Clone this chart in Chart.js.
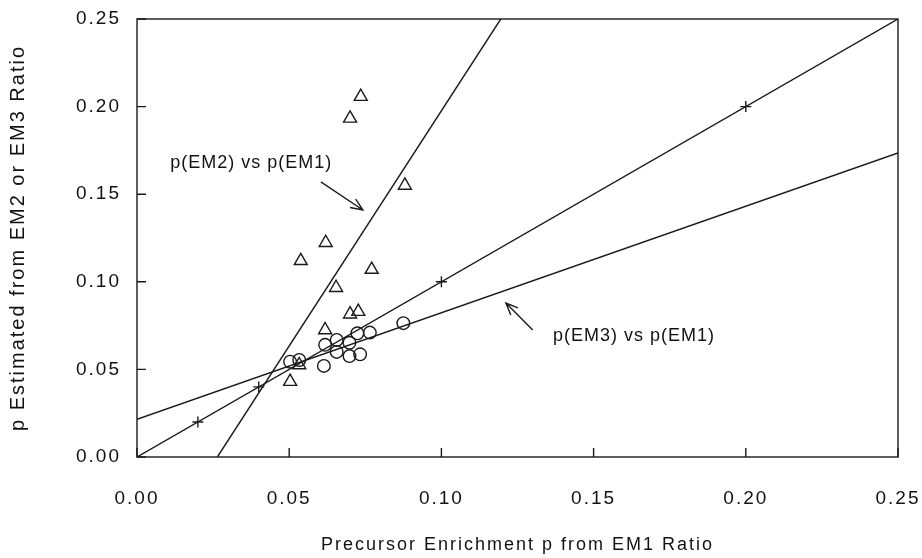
<!DOCTYPE html>
<html>
<head>
<meta charset="utf-8">
<script src="https://cdn.jsdelivr.net/npm/chart.js@4"></script>
<style>
  html, body { margin: 0; padding: 0; background: #fff; }
  #wrap { width: 922px; height: 558px; }
</style>
</head>
<body>
<div id="wrap"><canvas id="enrichChart" width="922" height="558"></canvas></div>
<script>
// EM2 estimates (triangles) vs p from EM1
const em2X = [0.0735, 0.0700, 0.0880, 0.0620, 0.0538, 0.0771, 0.0654, 0.0700, 0.0727, 0.0618, 0.0533, 0.0503];
const em2Y = [0.2057, 0.1933, 0.1550, 0.1223, 0.1120, 0.1070, 0.0966, 0.0815, 0.0830, 0.0725, 0.0525, 0.0430];

// EM3 estimates (circles) vs p from EM1
const em3X = [0.0503, 0.0533, 0.0614, 0.0618, 0.0656, 0.0656, 0.0698, 0.0698, 0.0733, 0.0724, 0.0765, 0.0875];
const em3Y = [0.0544, 0.0554, 0.0520, 0.0640, 0.0668, 0.0600, 0.0652, 0.0576, 0.0586, 0.0706, 0.0710, 0.0764];

// identity markers (+)
const refX = [0.02, 0.04, 0.10, 0.20];
const refY = [0.02, 0.04, 0.10, 0.20];

// fitted lines, end points
const identityX = [0, 0.25];
const identityY = [0, 0.25];
const em3LineX = [0, 0.25];
const em3LineY = [0.0215, 0.1735];
const em2LineX = [0.0264, 0.1195];
const em2LineY = [0, 0.25];

const tickValues = [0, 0.05, 0.10, 0.15, 0.20, 0.25];

const ink = '#1a1a1a';
const pts = (xs, ys) => xs.map((x, i) => ({ x: x, y: ys[i] }));

// labels with arrows, in data units
const notes = [
    { text: 'p(EM2) vs p(EM1)', x: 0.0375, y: 0.168, from: [0.0604, 0.157], to: [0.0742, 0.141] },
    { text: 'p(EM3) vs p(EM1)', x: 0.1633, y: 0.069, from: [0.1300, 0.0725], to: [0.1212, 0.0879] }
];

const spacing = {
    id: 'spacing',
    beforeLayout(chart) { chart.ctx.letterSpacing = '2px'; },
    beforeDraw(chart) { chart.ctx.letterSpacing = '2px'; }
};

const frame = {
    id: 'frame',
    afterDraw(chart) {
        const { ctx, chartArea: a, scales } = chart;
        ctx.save();
        ctx.strokeStyle = ink;
        ctx.lineWidth = 1.4;
        ctx.strokeRect(a.left, a.top, a.right - a.left, a.bottom - a.top);
        // inward ticks
        const len = 9;
        ctx.beginPath();
        tickValues.forEach(v => {
            const px = scales.x.getPixelForValue(v);
            ctx.moveTo(px, a.bottom); ctx.lineTo(px, a.bottom - len);
            const py = scales.y.getPixelForValue(v);
            ctx.moveTo(a.left, py); ctx.lineTo(a.left + len, py);
        });
        ctx.stroke();

        // annotations
        ctx.fillStyle = '#121212';
        ctx.font = '18px "Liberation Sans", Arial, sans-serif';
        ctx.letterSpacing = '1px';
        ctx.textAlign = 'center';
        ctx.textBaseline = 'middle';
        notes.forEach(n => {
            ctx.fillText(n.text, scales.x.getPixelForValue(n.x), scales.y.getPixelForValue(n.y));
            const x1 = scales.x.getPixelForValue(n.from[0]), y1 = scales.y.getPixelForValue(n.from[1]);
            const x2 = scales.x.getPixelForValue(n.to[0]), y2 = scales.y.getPixelForValue(n.to[1]);
            const ang = Math.atan2(y2 - y1, x2 - x1);
            ctx.beginPath();
            ctx.moveTo(x1, y1); ctx.lineTo(x2, y2);
            ctx.moveTo(x2 - 13 * Math.cos(ang - 0.4), y2 - 13 * Math.sin(ang - 0.4));
            ctx.lineTo(x2, y2);
            ctx.lineTo(x2 - 13 * Math.cos(ang + 0.4), y2 - 13 * Math.sin(ang + 0.4));
            ctx.stroke();
        });
        ctx.restore();
    }
};

const tickFont = { family: '"Liberation Sans", Arial, sans-serif', size: 19 };

new Chart(document.getElementById('enrichChart'), {
    type: 'scatter',
    data: {
        datasets: [
            {
                label: 'EM2',
                data: pts(em2X, em2Y),
                pointStyle: 'triangle',
                pointRadius: 7.5,
                backgroundColor: 'rgba(0,0,0,0)',
                borderColor: ink,
                borderWidth: 1.4
            },
            {
                label: 'EM3',
                data: pts(em3X, em3Y),
                pointStyle: 'circle',
                pointRadius: 6.3,
                backgroundColor: 'rgba(0,0,0,0)',
                borderColor: ink,
                borderWidth: 1.4
            },
            {
                label: 'ref',
                data: pts(refX, refY),
                pointStyle: 'cross',
                pointRadius: 5.5,
                borderColor: ink,
                borderWidth: 1.4
            },
            {
                label: 'identity',
                data: pts(identityX, identityY),
                showLine: true, pointRadius: 0,
                borderColor: ink, borderWidth: 1.4
            },
            {
                label: 'em3 fit',
                data: pts(em3LineX, em3LineY),
                showLine: true, pointRadius: 0,
                borderColor: ink, borderWidth: 1.4
            },
            {
                label: 'em2 fit',
                data: pts(em2LineX, em2LineY),
                showLine: true, pointRadius: 0,
                borderColor: ink, borderWidth: 1.4
            }
        ]
    },
    options: {
        responsive: false,
        animation: false,
        layout: { padding: { top: 19, right: 24, left: 0, bottom: 0 } },
        plugins: {
            legend: { display: false },
            tooltip: { enabled: false }
        },
        scales: {
            x: {
                type: 'linear', min: 0, max: 0.25,
                afterBuildTicks: s => { s.ticks = tickValues.map(v => ({ value: v })); },
                afterFit: s => { s.height = 101; s.paddingLeft = 0; s.paddingRight = 0; },
                grid: { display: false, drawTicks: false },
                border: { display: false },
                ticks: { color: '#121212', font: tickFont, padding: 30, maxRotation: 0, callback: v => v.toFixed(2) },
                title: {
                    display: true,
                    text: 'Precursor Enrichment p from EM1 Ratio',
                    color: '#121212',
                    font: { family: '"Liberation Sans", Arial, sans-serif', size: 18 },
                    padding: { top: 0, bottom: 2 }
                }
            },
            y: {
                type: 'linear', min: 0, max: 0.25,
                afterBuildTicks: s => { s.ticks = tickValues.map(v => ({ value: v })); },
                afterFit: s => { s.width = 137; s.paddingTop = 0; s.paddingBottom = 0; },
                grid: { display: false, drawTicks: false },
                border: { display: false },
                ticks: { color: '#121212', font: tickFont, padding: 16, callback: v => v.toFixed(2) },
                title: {
                    display: true,
                    text: 'p Estimated from EM2 or EM3 Ratio',
                    color: '#121212',
                    font: { family: '"Liberation Sans", Arial, sans-serif', size: 20 },
                    padding: { top: 6, bottom: 0 }
                }
            }
        }
    },
    plugins: [spacing, frame]
});
</script>
</body>
</html>
